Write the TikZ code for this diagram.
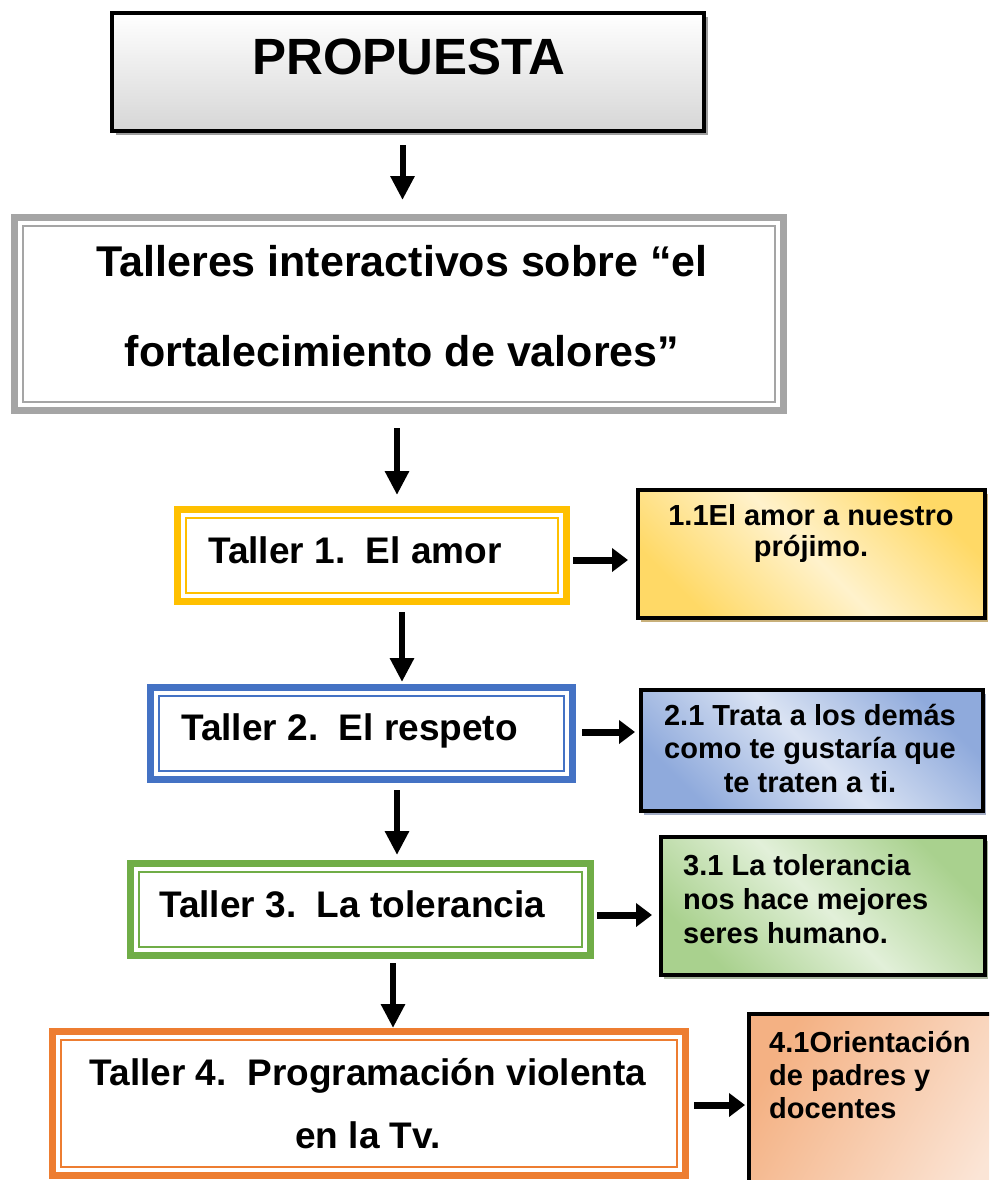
\documentclass[tikz,border=0pt]{standalone}
\usepackage{fontspec}
\setmainfont{Liberation Sans}
\usetikzlibrary{arrows.meta,shadows}
\definecolor{cgray}{HTML}{A5A5A5}
\definecolor{cgold}{HTML}{FFC000}
\definecolor{cblue}{HTML}{4472C4}
\definecolor{cgreen}{HTML}{70AD47}
\definecolor{corange}{HTML}{ED7D31}
\definecolor{ra}{HTML}{FFD966}\definecolor{rb}{HTML}{FFF2CC}\definecolor{rs}{HTML}{C8B07A}
\definecolor{ba}{HTML}{8FAADC}\definecolor{bb}{HTML}{DAE3F3}\definecolor{bs}{HTML}{A2ACC4}
\definecolor{ga}{HTML}{A9D18E}\definecolor{gb}{HTML}{E2F0D9}\definecolor{gs}{HTML}{A8B69E}
\definecolor{oa}{HTML}{F4B183}\definecolor{ob}{HTML}{FBE5D6}\definecolor{os}{HTML}{C9A58C}
\begin{document}
\begin{tikzpicture}[x=1pt,y=-1pt,
  tbox/.style={draw=#1, line width=7pt, inner sep=0pt, outer sep=0pt, fill=white},
  rbox/.style n args={3}{draw=black, line width=4pt, inner sep=0pt, outer sep=0pt,
     left color=#1, right color=#1, middle color=#2, shading angle=-45,
     drop shadow={shadow xshift=3pt, shadow yshift=-4pt, fill=#3, opacity=1}},
  big/.style={font=\fontsize{37}{44}\selectfont\bfseries, inner sep=0pt},
  small/.style={font=\fontsize{29}{#1}\selectfont\bfseries, inner sep=0pt},
  varr/.style={line width=6pt, -{Triangle[width=23pt,length=24pt]}},
  harr/.style={line width=7pt, -{Triangle[width=23pt,length=16pt]}}]
\useasboundingbox (0,0) rectangle (989,1180);
\clip (0,0) rectangle (989,1180);

% main boxes
\node[draw=black, line width=4pt, inner sep=0pt, outer sep=0pt,
      minimum width=592pt, minimum height=118pt,
      top color=white, bottom color=black!16,
      drop shadow={shadow xshift=4pt, shadow yshift=-4pt, fill=black!38, opacity=1}] (p) at (408,72) {};
\node[tbox=cgray, minimum width=769pt, minimum height=193pt] (b2) at (399,314) {};
\node[tbox=cgold, minimum width=389pt, minimum height=92pt] (t1) at (372,555.5) {};
\node[tbox=cblue, minimum width=422.5pt, minimum height=92pt] (t2) at (361.25,733.5) {};
\node[tbox=cgreen, minimum width=460.5pt, minimum height=92pt] (t3) at (360.25,909.5) {};
\node[tbox=corange, minimum width=633pt, minimum height=144pt] (t4) at (369,1103.5) {};
\foreach \n/\c in {b2/cgray, t1/cgold, t2/cblue, t3/cgreen, t4/corange}
  \draw[line width=2pt, draw=\c] ([shift={(8.5pt,-8.5pt)}]\n.north west) rectangle ([shift={(-8.5pt,8.5pt)}]\n.south east);

% side boxes
\node[rbox={ra}{rb}{rs}, minimum width=347pt, minimum height=128pt] (r1) at (811.5,554) {};
\node[rbox={ba}{bb}{bs}, minimum width=342pt, minimum height=121pt] (r2) at (812,750.5) {};
\node[rbox={ga}{gb}{gs}, minimum width=324pt, minimum height=138pt] (r3) at (823,906) {};
\node[draw=black, line width=4pt, inner sep=0pt, outer sep=0pt,
      left color=oa, right color=ob, shading angle=60,
      minimum width=261pt, minimum height=196pt] (r4) at (879.5,1112) {};

% texts (base anchor of a multi-line node = baseline of its last line)
\node[font=\fontsize{51}{60}\selectfont\bfseries, inner sep=0pt, anchor=base] (pt) at (409,75) {PROPUESTA};
\node[font=\fontsize{43}{90}\selectfont\bfseries, inner sep=0pt, anchor=base, align=center] (b2t) at (402,366)
  {Talleres interactivos sobre “el\\fortalecimiento de valores”};
\node[big, anchor=base west] (t1t) at (208,563) {Taller 1.\ \ El amor};
\node[big, anchor=base west] (t2t) at (181,740) {Taller 2.\ \ El respeto};
\node[big, anchor=base west] (t3t) at (159,917) {Taller 3.\ \ La tolerancia};
\node[font=\fontsize{37}{63}\selectfont\bfseries, inner sep=0pt, anchor=base, align=center] (t4t) at (368,1148)
  {Taller 4.\ \ Programación violenta\\en la Tv.};
\node[small=31, anchor=base, align=center] (r1t) at (811,556) {1.1El amor a nuestro\\prójimo.};
\node[small=33.5, anchor=base, align=center] (r2t) at (810,792) {2.1 Trata a los demás\\como te gustaría que\\te traten a ti.};
\node[small=34, anchor=base west, align=left] (r3t) at (683,943) {3.1 La tolerancia\\nos hace mejores\\seres humano.};
\node[small=33, anchor=base west, align=left] (r4t) at (769,1118) {4.1Orientación\\de padres y\\docentes};

% connectors
\coordinate (v1) at (402.5,0);
\coordinate (v2) at (397,0);
\coordinate (v3) at (402,0);
\coordinate (v4) at (397,0);
\coordinate (v5) at (393,0);
\draw[varr, shorten <=14pt, shorten >=17.5pt] (p.south -| v1) -- (b2.north -| v1);
\draw[varr, shorten <=17.5pt, shorten >=14.5pt] (b2.south -| v2) -- (t1.north -| v2);
\draw[varr, shorten <=10.5pt, shorten >=5.5pt] (t1.south -| v3) -- (t2.north -| v3);
\draw[varr, shorten <=10.5pt, shorten >=8.5pt] (t2.south -| v4) -- (t3.north -| v4);
\draw[varr, shorten <=7.5pt, shorten >=3.5pt] (t3.south -| v5) -- (t4.north -| v5);
\coordinate (h1) at (0,560);
\coordinate (h2) at (0,732);
\coordinate (h3) at (0,915);
\coordinate (h4) at (0,1105);
\draw[harr, shorten <=6.5pt, shorten >=10pt] (t1.east |- h1) -- (r1.west |- h1);
\draw[harr, shorten <=9.5pt, shorten >=6pt] (t2.east |- h2) -- (r2.west |- h2);
\draw[harr, shorten <=6.5pt, shorten >=9pt] (t3.east |- h3) -- (r3.west |- h3);
\draw[harr, shorten <=8.5pt, shorten >=4pt] (t4.east |- h4) -- (r4.west |- h4);
\end{tikzpicture}
\end{document}
